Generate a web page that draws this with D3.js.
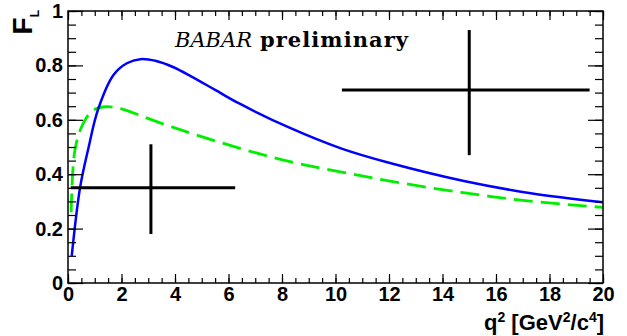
<!DOCTYPE html>
<html>
  <head>
    <meta charset="utf-8">
    <title>F_L vs q2</title>
    <style>
    body{margin:0;background:#fff}
    svg{display:block}
    </style>
  </head>
  <body>
    <svg width="627" height="336"></svg>
    <script src="https://d3js.org/d3.v7.min.js"></script>
    <script>

    // tick labels
    var xTicks = [0, 2, 4, 6, 8, 10, 12, 14, 16, 18, 20];
    var yTicks = [0, 0.2, 0.4, 0.6, 0.8, 1];

    // blue curve (q2, FL)
    var blueQ  = [0.14, 0.45, 0.75, 1.13, 1.7, 2.2, 2.7, 3.3, 3.9, 4.6, 5.5, 6.4, 8.3, 10.2, 12.0, 14.8, 17.3, 20];
    var blueFL = [0.10, 0.35, 0.49, 0.64, 0.765, 0.808, 0.823, 0.816, 0.795, 0.76, 0.71, 0.66, 0.57, 0.495, 0.442, 0.375, 0.33, 0.297];

    // green dashed curve
    var greenQ  = [0.12, 0.26, 0.57, 0.95, 1.44, 2.0, 2.8, 3.7, 4.68, 6.43, 8.3, 10.17, 12.2, 14.77, 17.27, 20];
    var greenFL = [0.26, 0.49, 0.587, 0.636, 0.648, 0.64, 0.612, 0.58, 0.548, 0.495, 0.446, 0.409, 0.372, 0.332, 0.301, 0.278];

    // measured points with bin widths and errors
    var ptQ    = [3.1, 15.0];
    var ptQlo  = [0.1, 10.24];
    var ptQhi  = [6.25, 19.5];
    var ptFL   = [0.35, 0.71];
    var ptErrUp = [0.16, 0.22];
    var ptErrDn = [0.17, 0.24];

    var svg = d3.select("svg");
    var x = d3.scaleLinear().domain([0, 20]).range([68, 603]);
    var y = d3.scaleLinear().domain([0, 1]).range([283, 11]);

    var g = svg.append("g");

    // curves
    var line = d3.line().curve(d3.curveCatmullRom.alpha(0.5))
      .x(function(d) { return x(d[0]); })
      .y(function(d) { return y(d[1]); });

    g.append("path").datum(d3.zip(greenQ, greenFL))
      .attr("d", line).attr("fill", "none").attr("stroke", "#00ee00")
      .attr("stroke-width", 2.8).attr("stroke-dasharray", "19,8");
    g.append("path").datum(d3.zip(blueQ, blueFL))
      .attr("d", line).attr("fill", "none").attr("stroke", "#0000ff")
      .attr("stroke-width", 2.5);

    // data points
    var pts = g.selectAll(".pt").data(d3.range(ptQ.length)).enter().append("g");
    pts.append("line")
      .attr("x1", function(i) { return x(ptQlo[i]); }).attr("x2", function(i) { return x(ptQhi[i]); })
      .attr("y1", function(i) { return y(ptFL[i]); }).attr("y2", function(i) { return y(ptFL[i]); })
      .attr("stroke", "#000").attr("stroke-width", 3);
    pts.append("line")
      .attr("x1", function(i) { return x(ptQ[i]); }).attr("x2", function(i) { return x(ptQ[i]); })
      .attr("y1", function(i) { return y(ptFL[i] + ptErrUp[i]); }).attr("y2", function(i) { return y(ptFL[i] - ptErrDn[i]); })
      .attr("stroke", "#000").attr("stroke-width", 3);

    // axes, ticks inward on all sides
    function fmt(d) { return String(d); }
    var font = "'Liberation Sans', Arial, sans-serif";

    g.append("g").attr("transform", "translate(0,283)")
      .call(d3.axisBottom(x).tickValues(xTicks).tickSize(-9).tickPadding(4).tickFormat(fmt));
    g.append("g").attr("transform", "translate(0,283)")
      .call(d3.axisBottom(x).ticks(40).tickSize(-5).tickFormat(""));
    g.append("g").attr("transform", "translate(0,11)")
      .call(d3.axisTop(x).tickValues(xTicks).tickSize(-9).tickFormat(""));
    g.append("g").attr("transform", "translate(0,11)")
      .call(d3.axisTop(x).ticks(40).tickSize(-5).tickFormat(""));

    g.append("g").attr("transform", "translate(68,0)")
      .call(d3.axisLeft(y).tickValues(yTicks).tickSize(-15).tickPadding(5).tickFormat(fmt));
    g.append("g").attr("transform", "translate(68,0)")
      .call(d3.axisLeft(y).ticks(20).tickSize(-8).tickFormat(""));
    g.append("g").attr("transform", "translate(603,0)")
      .call(d3.axisRight(y).tickValues(yTicks).tickSize(-15).tickFormat(""));
    g.append("g").attr("transform", "translate(603,0)")
      .call(d3.axisRight(y).ticks(20).tickSize(-8).tickFormat(""));

    g.selectAll(".domain").remove();
    g.selectAll(".tick line").attr("stroke", "#000").attr("stroke-width", 1.2);
    g.selectAll(".tick text").attr("font-family", font).attr("font-weight", "bold")
      .attr("font-size", 20).attr("fill", "#000");

    // frame
    g.append("rect").attr("x", 68).attr("y", 11).attr("width", 535).attr("height", 272)
      .attr("fill", "none").attr("stroke", "#000").attr("stroke-width", 1.5);

    // axis titles
    var xt = svg.append("text").attr("x", 604).attr("y", 330).attr("text-anchor", "end")
      .attr("font-family", font).attr("font-weight", "bold").attr("font-size", 22);
    xt.append("tspan").text("q");
    xt.append("tspan").attr("font-size", 14).attr("dy", -8).text("2");
    xt.append("tspan").attr("dy", 8).text(" [GeV");
    xt.append("tspan").attr("font-size", 14).attr("dy", -8).text("2");
    xt.append("tspan").attr("dy", 8).text("/c");
    xt.append("tspan").attr("font-size", 14).attr("dy", -8).text("4");
    xt.append("tspan").attr("dy", 8).text("]");

    var yt = svg.append("text").attr("transform", "translate(32,10) rotate(-90)")
      .attr("text-anchor", "end").attr("font-family", font).attr("font-weight", "bold")
      .attr("font-size", 28);
    yt.append("tspan").text("F");
    yt.append("tspan").attr("font-size", 12).attr("dy", 7).text("L");

    // label
    var lab = svg.append("text").attr("x", 175).attr("y", 47)
      .attr("font-family", "'DejaVu Serif', serif").attr("font-size", 21);
    lab.append("tspan").attr("font-style", "italic").text("BABAR");
    lab.append("tspan").attr("font-weight", "bold").attr("x", 260).attr("textLength", 148).text("preliminary");

    </script>
  </body>
</html>
